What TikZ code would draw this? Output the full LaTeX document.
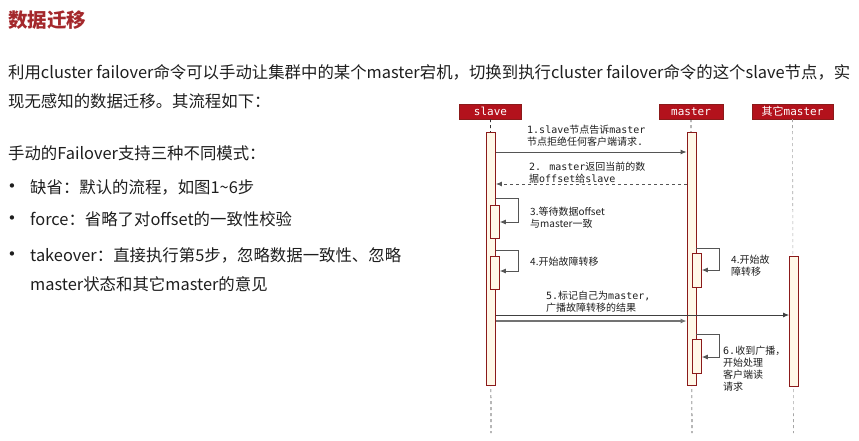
\documentclass[tikz,border=0pt]{standalone}
\usepackage{fontspec}
\setmainfont{Noto Sans CJK SC}
\newfontfamily\cjk{Noto Sans CJK SC}
\newfontfamily\mono{DejaVu Sans Mono}
\newfontfamily\dejavu{DejaVu Sans}
\usetikzlibrary{arrows.meta}
\definecolor{titlered}{HTML}{A4282C}
\definecolor{hdrred}{HTML}{B3121C}
\definecolor{barfill}{HTML}{FFF8E8}
\definecolor{barline}{HTML}{8B1A1A}
\definecolor{txt}{HTML}{1E1E1E}
\definecolor{arr}{HTML}{555555}
\tikzset{
  para/.style={anchor=west, inner sep=0pt, font=\fontsize{16.4}{19}\selectfont, text=txt},
  hdr/.style={fill=hdrred, draw=barline, text=white, inner sep=0pt, minimum height=15, font=\mono\fontsize{11}{12}\selectfont},
  bar/.style={draw=barline, fill=barfill, line width=0.8pt, minimum width=9, inner sep=0pt, anchor=north},
  nbar/.style={draw=barline, fill=barfill, line width=0.8pt, minimum width=9, inner sep=0pt, anchor=north west},
  life/.style={dashed, line width=0.6pt, black!80},
  lifeg/.style={dashed, line width=0.6pt, black!35},
  msg/.style={arr, line width=0.9pt, -{Latex[length=6pt,width=5pt]}},
  lbl/.style={anchor=west, inner sep=0pt, align=left, text=txt, font=\fontsize{10}{12}\selectfont},
  bul/.style={anchor=center, inner sep=0pt, text=txt, font=\dejavu\fontsize{15}{16}\selectfont},
}
\newcommand\mt[1]{{\mono #1}}
\begin{document}
\begin{tikzpicture}[x=1pt,y=-1pt]
\useasboundingbox (0,0) rectangle (859,440);
% text
\node[para, text=titlered, font=\bfseries\fontsize{19.5}{22}\selectfont] (title) at (8,20) {数据迁移};
\node[para] (p1) at (8,72) {利用cluster failover命令可以手动让集群中的某个master宕机，切换到执行cluster failover命令的这个slave节点，实};
\node[para] (p2) at (8,101) {现无感知的数据迁移。其流程如下：};
\node[para] (p3) at (8,153) {手动的Failover支持三种不同模式：};
\node[bul] (b1) at (12,188) {•};
\node[para] (l1) at (30,187) {缺省：默认的流程，如图1\textasciitilde 6步};
\node[bul] (b2) at (12,220) {•};
\node[para] (l2) at (30,219) {force：省略了对offset的一致性校验};
\node[bul] (b3) at (12,256) {•};
\node[para] (l3) at (30,255) {takeover：直接执行第5步，忽略数据一致性、忽略};
\node[para] (l4) at (30,284) {master状态和其它master的意见};
% headers
\node[hdr, minimum width=62] (hs) at (490.5,111.5) {slave};
\node[hdr, minimum width=64] (hm) at (691,111.5) {master};
\node[hdr, minimum width=81] (ho) at (792.5,111.5) {\cjk 其它\mono master};
% lifelines
\coordinate (es) at (491,433);
\coordinate (em) at (692,433);
\coordinate (eo) at (793.5,433);
\draw[life] (hs.south) -- (es);
\draw[life] (hm.south) -- (em);
\draw[lifeg] (ho.south) -- (eo);
% bars
\node[bar, minimum height=253] (bs) at (491,132) {};
\node[bar, minimum height=253] (bm) at (691.5,132) {};
\node[bar, minimum height=130] (bo) at (794,256) {};
\node[nbar, minimum height=33] (s3) at (490,205) {};
\node[nbar, minimum height=33] (s4) at (490,256) {};
\node[nbar, minimum height=34] (m4) at (692,253) {};
\node[nbar, minimum height=34] (m6) at (692,339) {};
% messages
\draw[msg] (bs.east |- 0,152) -- (bm.west |- 0,152);
\draw[msg, dashed] (bm.west |- 0,184) -- (bs.east |- 0,184);
\draw[msg] (bs.east |- 0,198) -- (518,198) |- (s3.east |- 0,222);
\draw[msg] (bs.east |- 0,250) -- (518,250) |- (s4.east |- 0,271);
\draw[msg] (bm.east |- 0,248) -- (719,248) |- (m4.east |- 0,270);
\draw[msg, black!75] (bs.east |- 0,315) -- (bo.west |- 0,315);
\draw[msg, line width=1.3pt, black!55] (bs.east |- 0,321) -- (bm.west |- 0,321);
\draw[msg] (bm.east |- 0,334) -- (719,334) |- (m6.east |- 0,357);
% labels
\node[lbl] (t1) at (527,136) {\mt{1.slave}节点告诉\mt{master}\\节点拒绝任何客户端请求\mt{.}};
\node[lbl] (t2) at (529,172.5) {\mt{2. master}返回当前的数\\据\mt{offset}给\mt{slave}};
\node[lbl] (t3) at (530,218) {3.等待数据offset\\与master一致};
\node[lbl] (t4) at (530,262) {4.开始故障转移};
\node[lbl] (t4m) at (731,266) {4.开始故\\障转移};
\node[lbl] (t5) at (546,301.5) {\mt{5.}标记自己为\mt{master,}\\广播故障转移的结果};
\node[lbl] (t6) at (723,369) {\mt{6.}收到广播，\\开始处理\\客户端读\\请求};
\end{tikzpicture}
\end{document}
